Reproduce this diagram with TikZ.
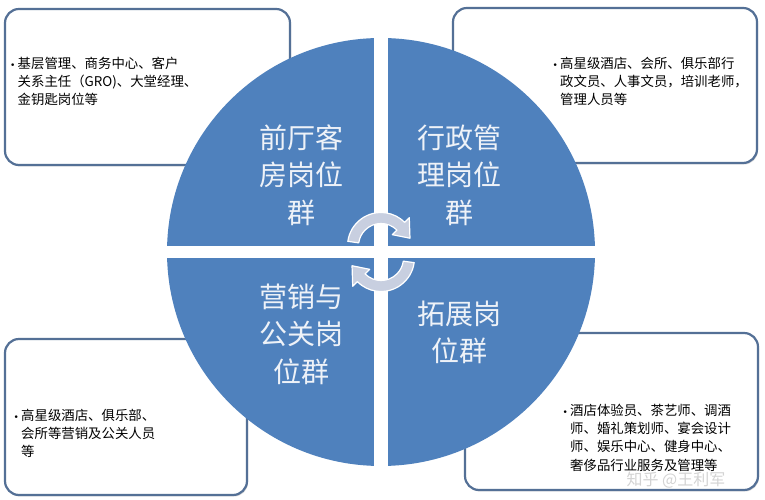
\documentclass[tikz,border=0pt]{standalone}
\usepackage{fontspec}
\setmainfont{Noto Sans CJK SC}
\newfontfamily\cjk{Noto Sans CJK SC}
\newfontfamily\dejavu{DejaVu Sans}
\usetikzlibrary{shadows}
\definecolor{qblue}{RGB}{79,129,189}
\definecolor{boxline}{RGB}{84,112,150}
\definecolor{arrfill}{RGB}{200,207,224}
\definecolor{qtext}{RGB}{238,242,248}
\definecolor{wmark}{RGB}{200,200,200}
\newcommand{\bul}{{\dejavu\fontsize{9}{12}\selectfont •}}
\begin{document}
\begin{tikzpicture}[x=1pt,y=1pt,
  infobox/.style={draw=boxline, line width=2.2pt, rounded corners=14pt, fill=white,
    drop shadow={shadow xshift=1pt, shadow yshift=-1.5pt, opacity=0.3, fill=gray},
    inner sep=0pt, outer sep=0pt},
  boxtext/.style={anchor=north west, inner sep=0pt, align=left,
    font=\cjk\fontsize{13.4}{18.3}\selectfont, text=black},
  quadtext/.style={align=center, inner sep=0pt, text=qtext,
    font=\cjk\fontsize{28}{37.5}\selectfont},
  quadfill/.style={fill=qblue},
  cyclearrow/.style={fill=arrfill, draw=white, line width=1.2pt, line join=round}]

\useasboundingbox (0,0) rectangle (765,500);
\fill[white] (0,0) rectangle (765,500);

% boxes
\node[infobox, minimum width=285pt, minimum height=156pt] (tlbox) at (147.5,413) {};
\node[infobox, minimum width=304pt, minimum height=155pt] (trbox) at (605,414.5) {};
\node[infobox, minimum width=242pt, minimum height=156pt] (blbox) at (126,83) {};
\node[infobox, minimum width=293pt, minimum height=157pt] (brbox) at (611.5,88.5) {};

% box texts
\node[boxtext] (tltext) at (10,444.8) {\begin{tabular}{@{}p{7.5pt}@{}l@{}}
\bul&基层管理、商务中心、客户\\
&关系主任（GRO)、大堂经理、\\
&金钥匙岗位等\end{tabular}};
\node[boxtext] (trtext) at (552.5,444.8) {\begin{tabular}{@{}p{7.5pt}@{}l@{}}
\bul&高星级酒店、会所、俱乐部行\\
&政文员、人事文员，培训老师，\\
&管理人员等\end{tabular}};
\node[boxtext] (bltext) at (13.5,92.8) {\begin{tabular}{@{}p{7.5pt}@{}l@{}}
\bul&高星级酒店、俱乐部、\\
&会所等营销及公关人员\\
&等\end{tabular}};
\node[boxtext] (brtext) at (562.5,97.8) {\begin{tabular}{@{}p{7.5pt}@{}l@{}}
\bul&酒店体验员、茶艺师、调酒\\
&师、婚礼策划师、宴会设计\\
&师、娱乐中心、健身中心、\\
&奢侈品行业服务及管理等\end{tabular}};

% circle quadrants
\begin{scope}
  \clip (381,248) circle (214);
  \fill[quadfill] (160,254.3) rectangle (374,470);
  \fill[quadfill] (388,254.3) rectangle (600,470);
  \fill[quadfill] (160,26) rectangle (374,242);
  \fill[quadfill] (388,26) rectangle (600,242);
\end{scope}

% quadrant texts
\node[quadtext] (qtl) at (301.5,325) {前厅客\\房岗位\\群};
\node[quadtext] (qtr) at (459.5,325) {行政管\\理岗位\\群};
\node[quadtext] (qbl) at (301,166) {营销与\\公关岗\\位群};
\node[quadtext] (qbr) at (459.5,167.5) {拓展岗\\位群};

% cycle arrows
\begin{scope}[shift={(381,254)}]
  \path[cyclearrow] (172:33.5) arc[start angle=172, end angle=45, radius=33.5]
    -- (45:40) -- (15:30) -- (45:16) -- (45:22.5)
    arc[start angle=45, end angle=172, radius=22.5] -- cycle;
\end{scope}
\begin{scope}[rotate around={180:(381,248)}]
  \begin{scope}[shift={(381,254)}]
  \path[cyclearrow] (172:33.5) arc[start angle=172, end angle=45, radius=33.5]
    -- (45:40) -- (15:30) -- (45:16) -- (45:22.5)
    arc[start angle=45, end angle=172, radius=22.5] -- cycle;
  \end{scope}
\end{scope}

% watermark
\node[text=wmark, opacity=0.8, font=\cjk\fontsize{16}{18}\selectfont, inner sep=0pt] (wm) at (676,20) {知乎 @王利军};
\end{tikzpicture}
\end{document}
